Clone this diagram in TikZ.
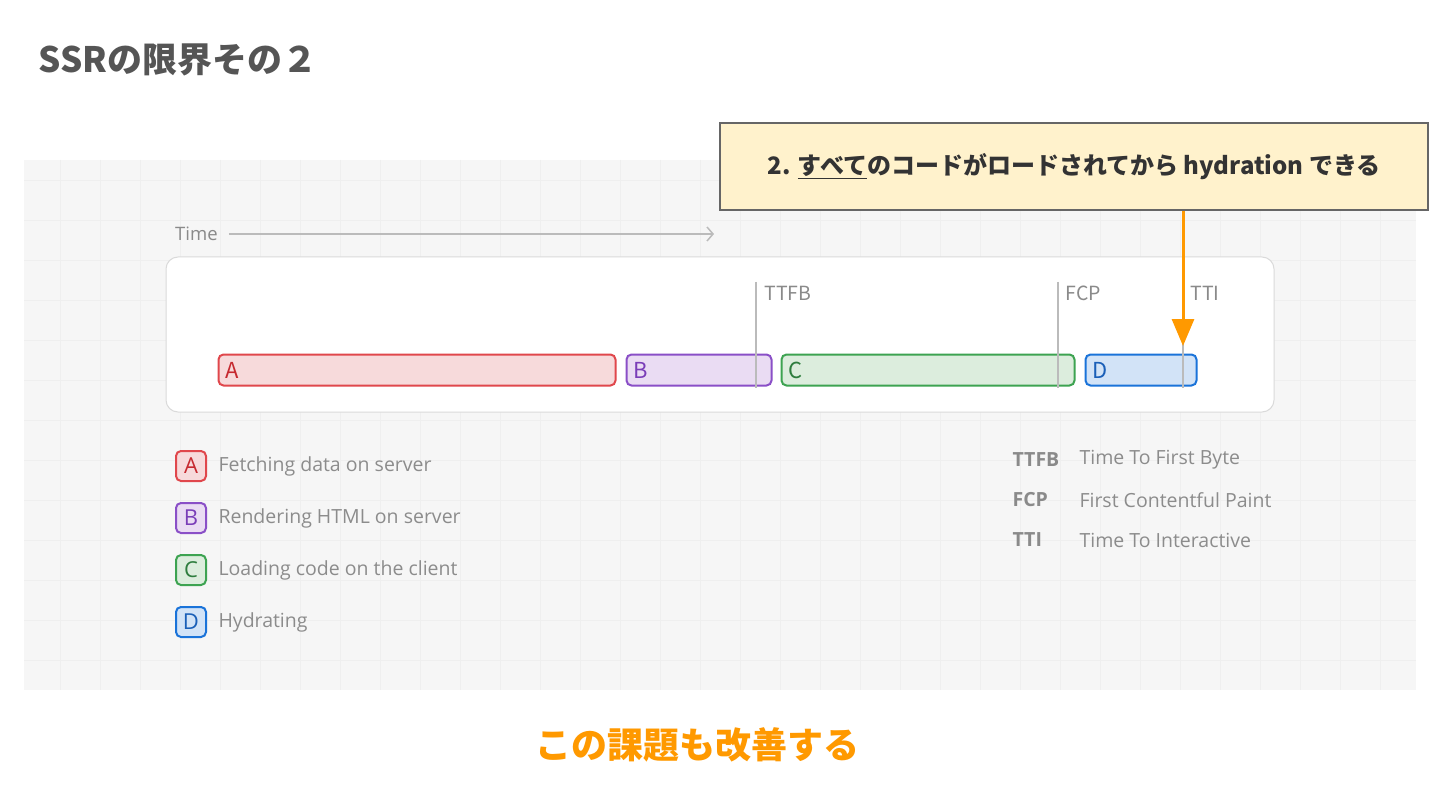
\documentclass[tikz,border=0pt]{standalone}
\usepackage{fontspec}
\setmainfont{Open Sans}
\newfontfamily\jp{Noto Sans CJK JP}
\usetikzlibrary{arrows.meta}
\definecolor{titlegray}{HTML}{555555}
\definecolor{bggray}{HTML}{F6F6F6}
\definecolor{gridgray}{HTML}{EFEFEF}
\definecolor{boxborder}{HTML}{DADADA}
\definecolor{linegray}{HTML}{BBBBBB}
\definecolor{labgray}{HTML}{8A8A8A}
\definecolor{legtext}{HTML}{8C8C8C}
\definecolor{redB}{HTML}{E0474C}\definecolor{redF}{HTML}{F7DADB}\definecolor{redT}{HTML}{C62A30}
\definecolor{purB}{HTML}{8A4FC7}\definecolor{purF}{HTML}{EADCF3}\definecolor{purT}{HTML}{7A3DB8}
\definecolor{grnB}{HTML}{3DA351}\definecolor{grnF}{HTML}{DCEDDD}\definecolor{grnT}{HTML}{2E7D3E}
\definecolor{bluB}{HTML}{1A73D9}\definecolor{bluF}{HTML}{D2E3F7}\definecolor{bluT}{HTML}{1A5FB8}
\definecolor{callF}{HTML}{FFF2CC}\definecolor{callB}{HTML}{666666}
\definecolor{orng}{HTML}{FF9900}
\tikzset{
  bar/.style={draw=#1B, fill=#1F, line width=2pt, rounded corners=5pt, minimum height=31pt, inner sep=0pt},
  barlab/.style={anchor=west, font=\jp\fontsize{22}{22}\selectfont, text=#1T},
  legbox/.style={draw=#1B, fill=#1F, line width=2pt, rounded corners=5pt, minimum width=30pt, minimum height=30pt, inner sep=0pt, font=\fontsize{22}{22}\selectfont, text=#1T},
  legtxt/.style={anchor=west, font=\fontsize{19.5}{19.5}\selectfont, text=legtext},
  mlab/.style={anchor=west, font=\jp\fontsize{19.5}{19.5}\selectfont, text=labgray},
  mkey/.style={anchor=west, font=\bfseries\fontsize{19.5}{19.5}\selectfont, text=labgray},
  mdesc/.style={anchor=west, font=\fontsize{19.5}{19.5}\selectfont, text=legtext},
  mline/.style={draw=linegray, line width=1.3pt},
}
\begin{document}
\begin{tikzpicture}[x=1pt,y=-1pt]
\useasboundingbox (0,0) rectangle (1440,810);
\fill[white] (0,0) rectangle (1440,810);
% background panel with faint grid
\fill[bggray] (24,160) rectangle (1416,690);
\begin{scope}
\clip (24,160) rectangle (1416,690);
\foreach \gx in {60,100,...,1400} \draw[gridgray, line width=0.5pt] (\gx,160) -- (\gx,690);
\foreach \gy in {180,220,...,690} \draw[gridgray, line width=0.5pt] (24,\gy) -- (1416,\gy);
\end{scope}
% title
\node[anchor=west, font=\jp\bfseries\fontsize{35}{35}\selectfont, text=titlegray] (title) at (35,60) {SSRの限界その２};
% time axis
\node[anchor=west, font=\fontsize{18.5}{18.5}\selectfont, text=labgray, inner sep=0pt] (time) at (175,234) {Time};
\coordinate (tend) at (714,234);
\draw[linegray, line width=1.5pt, -{Straight Barb[length=6pt,width=14pt]}] ([xshift=11pt]time.east) -- (tend);
% white panel
\node[draw=boxborder, fill=white, line width=1pt, rounded corners=12pt, minimum width=1108pt, minimum height=155pt, inner sep=0pt] (panel) at (720,334.5) {};
% bars
\node[bar=red, minimum width=397pt] (A) at (417,370) {};
\node[bar=pur, minimum width=145pt] (B) at (699,370) {};
\node[bar=grn, minimum width=293pt] (C) at (928,370) {};
\node[bar=blu, minimum width=111pt] (D) at (1141,370) {};
\node[barlab=red] at ([xshift=4pt]A.west) {A};
\node[barlab=pur] at ([xshift=4pt]B.west) {B};
\node[barlab=grn] at ([xshift=4pt]C.west) {C};
\node[barlab=blu] at ([xshift=4pt]D.west) {D};
% milestone lines
\coordinate (m1t) at (756,282); \coordinate (m1b) at (756,388);
\coordinate (m2t) at (1058,282); \coordinate (m2b) at (1058,388);
\coordinate (m3t) at (1183,300); \coordinate (m3b) at (1183,388);
\draw[mline] (m1t) -- (m1b);
\draw[mline] (m2t) -- (m2b);
\draw[mline] (m3t) -- (m3b);
\node[mlab] (ttfb) at (761,293) {TTFB};
\node[mlab] (fcp) at (1062,293) {FCP};
\node[mlab] (tti) at (1187,293) {TTI};
% callout
\node[draw=callB, fill=callF, line width=1.2pt, minimum width=708pt, minimum height=87pt, inner sep=0pt,
      font=\jp\bfseries\fontsize{24}{24}\selectfont, text=black!80] (call) at (1074,166.5)
      {2. \underline{すべて}のコードがロードされてから hydration できる};
\coordinate (arrend) at (1183,346);
\draw[orng, line width=3pt, -{Triangle[length=27pt,width=22pt]}] (call.south -| arrend) -- (arrend);
% legend left
\node[legbox=red] (lA) at (191,466) {A};
\node[legbox=pur] (lB) at (191,518) {B};
\node[legbox=grn] (lC) at (191,570) {C};
\node[legbox=blu] (lD) at (191,622) {D};
\node[legtxt] at ([xshift=8pt]lA.east) {Fetching data on server};
\node[legtxt] at ([xshift=8pt]lB.east) {Rendering HTML on server};
\node[legtxt] at ([xshift=8pt]lC.east) {Loading code on the client};
\node[legtxt] at ([xshift=8pt]lD.east) {Hydrating};
% legend right
\node[mkey] (k1) at (1009,460) {TTFB};
\node[mkey] (k2) at (1009,500) {FCP};
\node[mkey] (k3) at (1009,540) {TTI};
\node[mdesc] at (1076,460) {Time To First Byte};
\node[mdesc] at (1076,500) {First Contentful Paint};
\node[mdesc] at (1076,540) {Time To Interactive};
% bottom
\node[font=\jp\bfseries\fontsize{36}{36}\selectfont, text=orng] (bottom) at (697,745) {この課題も改善する};
\end{tikzpicture}
\end{document}
